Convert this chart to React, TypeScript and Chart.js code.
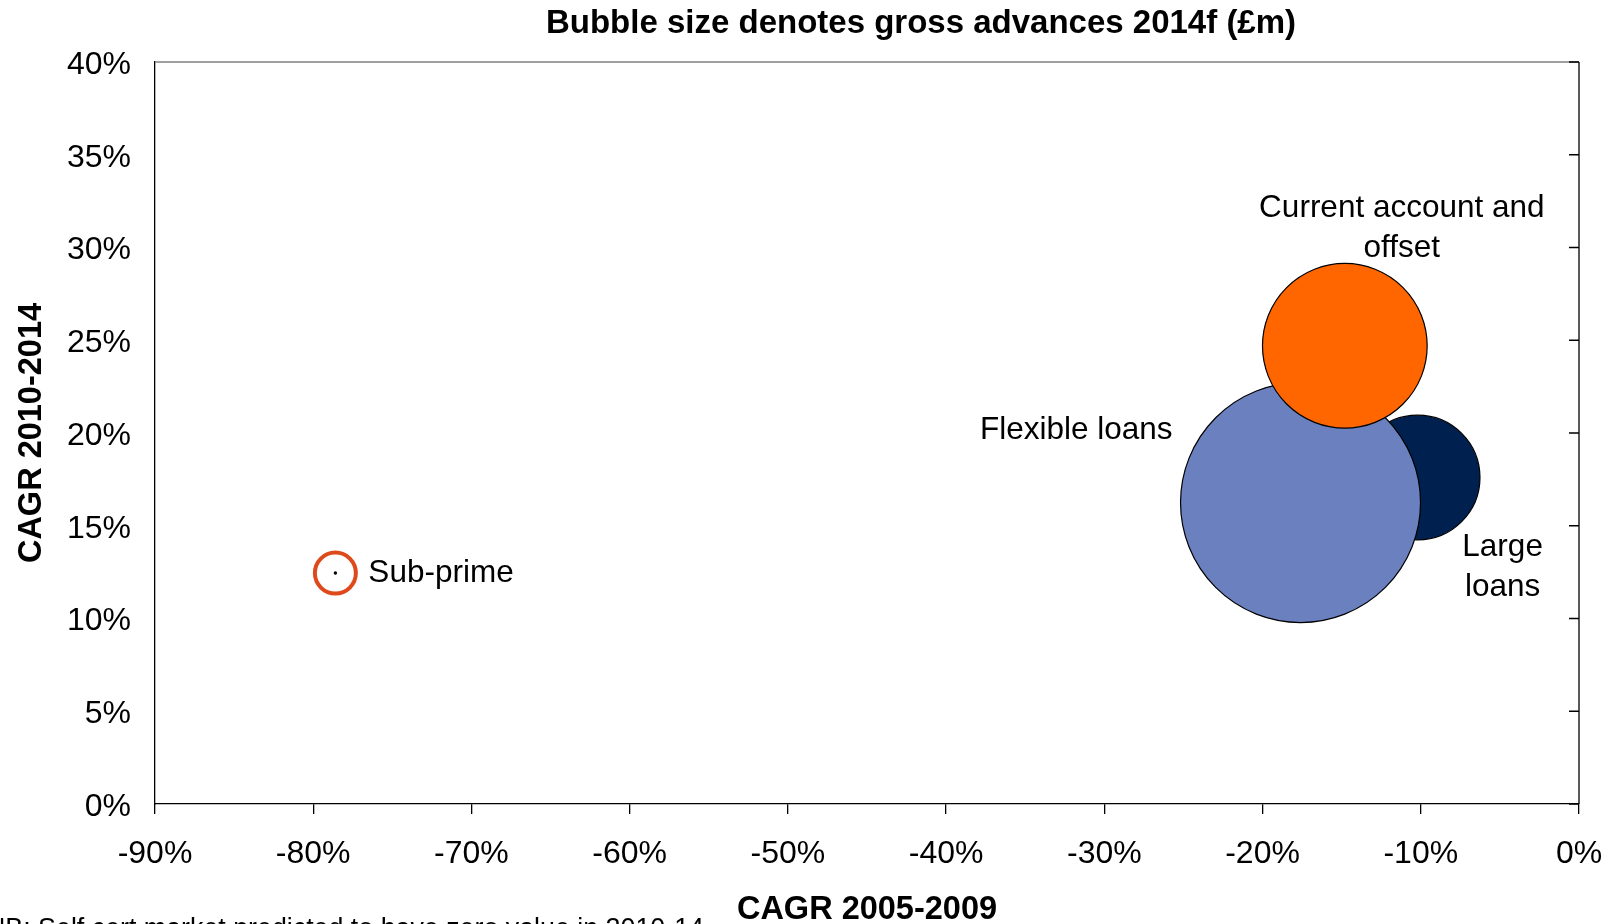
import React, { useEffect, useRef } from 'react';
import { Chart, registerables } from 'chart.js';

Chart.register(...registerables);

// ---- Data ----
const seriesNames = ['Current account and offset', 'Flexible loans', 'Large loans', 'Sub-prime'];
const cagr2005to2009 = [-14.8, -17.6, -10.2, -78.6]; // x, %
const cagr2010to2014 = [24.7, 16.25, 17.6, 12.45]; // y, %
const grossAdvances2014f = [5650, 12000, 3240, 1]; // bubble size, £m
const seriesColors = ['#FF6600', '#6B80BF', '#00214F', '#000000'];
const labelLines = [['Current account and', 'offset'], ['Flexible loans'], ['Large', 'loans'], ['Sub-prime']];

const xTickMin = -90;
const xTickMax = 0;
const xTickStep = 10;
const yTickMin = 0;
const yTickMax = 40;
const yTickStep = 5;

const chartTitle = 'Bubble size denotes gross advances 2014f (£m)';
const xAxisTitle = 'CAGR 2005-2009';
const yAxisTitle = 'CAGR 2010-2014';
const footnote = 'NB: Self cert market predicted to have zero value in 2010-14';

// ---- Style / layout ----
const FONT = "'Liberation Sans', Arial, Helvetica, sans-serif";
const MAX_RADIUS = 120;
const labelPlacement = [
  { dx: 57, dy: -137.5, lineGap: 40, align: 'center' },
  { dx: -128, dy: -72, lineGap: 40, align: 'right' },
  { dx: 85, dy: 70, lineGap: 40, align: 'center' },
  { dx: 33, dy: 0, lineGap: 40, align: 'left' },
];

const maxSize = Math.max(...grossAdvances2014f);
const radiusFor = (v: number) => MAX_RADIUS * Math.sqrt(v / maxSize);

const decorPlugin = {
  id: 'decor',
  beforeDatasetsDraw(chart: any) {
    const { ctx, chartArea: a, scales } = chart;
    ctx.save();
    ctx.strokeStyle = '#808080';
    ctx.lineWidth = 1.5;
    ctx.beginPath();
    ctx.moveTo(a.left, a.top);
    ctx.lineTo(a.right, a.top);
    ctx.stroke();
    ctx.strokeStyle = '#000';
    ctx.lineWidth = 1.3;
    ctx.beginPath();
    ctx.moveTo(a.right, a.top);
    ctx.lineTo(a.right, a.bottom);
    const ys = scales.y;
    ys.ticks.forEach((_t: any, i: number) => {
      const py = ys.getPixelForTick(i);
      ctx.moveTo(a.right - 10, py);
      ctx.lineTo(a.right, py);
    });
    ctx.stroke();
    ctx.restore();
  },
  afterDatasetsDraw(chart: any) {
    const { ctx } = chart;
    // ring highlighting the Sub-prime point
    const meta = chart.getDatasetMeta(3);
    const p = meta.data[0];
    ctx.save();
    ctx.strokeStyle = '#DF4A1C';
    ctx.lineWidth = 4;
    ctx.beginPath();
    ctx.arc(p.x, p.y, 20.5, 0, Math.PI * 2);
    ctx.stroke();
    ctx.restore();
  },
  afterDraw(chart: any) {
    const { ctx, chartArea: a } = chart;
    ctx.save();
    ctx.fillStyle = '#000';
    // point labels
    ctx.font = `31.5px ${FONT}`;
    ctx.textBaseline = 'middle';
    labelLines.forEach((lines, i) => {
      const pt = chart.getDatasetMeta(i).data[0];
      const pl = labelPlacement[i];
      ctx.textAlign = pl.align;
      lines.forEach((line, j) => {
        ctx.fillText(line, pt.x + pl.dx, pt.y + pl.dy + j * pl.lineGap);
      });
    });
    // title
    ctx.font = `bold 33px ${FONT}`;
    ctx.textAlign = 'center';
    ctx.fillText(chartTitle, 921, 23.5);
    // axis titles
    ctx.font = `bold 32.5px ${FONT}`;
    ctx.fillText(xAxisTitle, (a.left + a.right) / 2, 910);
    ctx.save();
    ctx.translate(32, (a.top + a.bottom) / 2);
    ctx.rotate(-Math.PI / 2);
    ctx.fillText(yAxisTitle, 0, 0);
    ctx.restore();
    // footnote
    ctx.font = `26.8px ${FONT}`;
    ctx.textAlign = 'left';
    ctx.textBaseline = 'alphabetic';
    ctx.fillText(footnote, -14, 937);
    ctx.restore();
  },
};

export default function App() {
  const canvasRef = useRef<HTMLCanvasElement | null>(null);

  useEffect(() => {
    const canvas = canvasRef.current;
    if (!canvas) return;
    Chart.defaults.font.family = FONT;
    const datasets = seriesNames.map((name, i) => ({
      label: name,
      data: [{ x: cagr2005to2009[i], y: cagr2010to2014[i], r: radiusFor(grossAdvances2014f[i]) }],
      backgroundColor: seriesColors[i],
      borderColor: '#000',
      borderWidth: 1.2,
      hoverRadius: 0,
      hoverBorderWidth: 1.2,
    }));
    const chart = new Chart(canvas, {
      type: 'bubble',
      data: { datasets },
      options: {
        animation: false,
        responsive: false,
        devicePixelRatio: 1,
        events: [],
        layout: { autoPadding: false, padding: { left: 0, top: 62, right: 33, bottom: 0 } },
        plugins: { legend: { display: false }, tooltip: { enabled: false }, title: { display: false } },
        scales: {
          x: {
            type: 'linear',
            position: 'bottom',
            min: xTickMin,
            max: xTickMax,
            afterFit: (s: any) => { s.height = 120; s.paddingLeft = 0; s.paddingRight = 0; },
            ticks: {
              stepSize: xTickStep,
              color: '#000',
              font: { size: 32, family: FONT },
              padding: 21,
              maxRotation: 0,
              callback: (v: any) => `${v}%`,
            },
            grid: { display: true, drawOnChartArea: false, drawTicks: true, tickLength: 10, color: '#000', lineWidth: 1.3 },
            border: { display: true, color: '#000', width: 1.3 },
          },
          y: {
            type: 'linear',
            position: 'left',
            min: yTickMin,
            max: yTickMax,
            afterFit: (s: any) => { s.width = 155; s.paddingTop = 0; s.paddingBottom = 0; },
            ticks: {
              stepSize: yTickStep,
              color: '#000',
              font: { size: 32, family: FONT },
              padding: 24,
              labelOffset: 3,
              callback: (v: any) => `${v}%`,
            },
            grid: { display: false, drawTicks: false },
            border: { display: true, color: '#000', width: 1.3 },
          },
        },
      },
      plugins: [decorPlugin],
    } as any);
    return () => chart.destroy();
  }, []);

  return (
    <div style={{ position: 'fixed', left: 0, top: 0, width: 1612, height: 924, background: '#fff' }}>
      <canvas ref={canvasRef} width={1612} height={924} style={{ display: 'block' }} />
    </div>
  );
}
